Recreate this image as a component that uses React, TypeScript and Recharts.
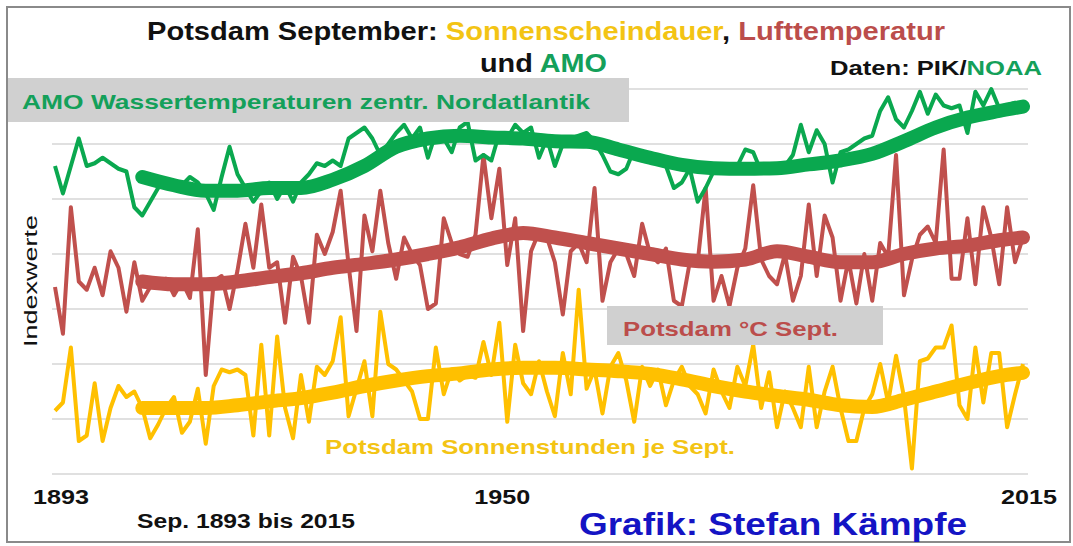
import React from 'react';
import { LineChart, Line, XAxis, YAxis, CartesianGrid } from 'recharts';

// Sep. 1893 .. 2015, index values (gridline = 1 unit)
const firstYear = 1893;
const years = Array.from({ length: 123 }, (_, i) => firstYear + i);

const amo = [
  5.6, 5.1, 5.6, 6.1, 5.6, 5.65, 5.75, 5.65, 5.55, 5.5,
  4.85, 4.7, 4.95, 5.2, 5.35, 5.3, 5.25, 5.4, 5.3, 5.1,
  4.8, 5.4, 5.95, 5.45, 5.2, 4.95, 5.15, 5.3, 5.0, 5.25,
  4.95, 5.3, 5.45, 5.65, 5.6, 5.7, 5.6, 6.1, 6.2, 6.3,
  6.1, 5.8, 6.0, 6.2, 6.35, 6.1, 6.3, 5.75, 6.2, 6.1,
  5.85, 6.3, 6.4, 5.7, 5.8, 5.7, 6.2, 6.1, 6.35, 6.2,
  6.3, 5.75, 6.1, 5.6, 6.0, 6.1, 6.15, 6.2, 6.05, 5.8,
  5.5, 5.45, 5.55, 5.9, 5.85, 5.75, 5.7, 5.6, 5.2, 5.3,
  5.55, 4.95, 5.2, 5.5, 5.55, 5.5, 5.6, 5.9, 5.85, 5.5,
  5.5, 5.55, 5.6, 5.8, 6.35, 5.85, 6.25, 6.0, 5.3, 5.85,
  5.9, 6.0, 6.1, 6.15, 6.6, 6.85, 6.45, 6.3, 6.6, 6.95,
  6.55, 6.9, 6.7, 6.65, 6.7, 6.2, 6.95, 6.7, 7.0, 6.65,
  6.7, 6.75, 6.7,
];

const temp = [
  3.4, 2.55, 4.85, 3.5, 3.35, 3.75, 3.25, 4.05, 3.75, 2.95,
  3.85, 3.15, 3.4, 3.5, 3.55, 3.25, 3.5, 3.2, 4.45, 1.8,
  3.5, 3.6, 3.0, 3.7, 4.55, 3.75, 4.9, 3.75, 3.85, 2.75,
  3.95, 3.6, 2.75, 4.35, 4.0, 4.4, 5.15, 3.8, 2.6, 4.7,
  4.05, 5.15, 4.2, 3.55, 4.3, 4.0, 3.8, 3.0, 3.1, 4.65,
  4.2, 4.0, 3.95, 4.35, 5.8, 4.65, 5.55, 3.8, 4.65, 2.6,
  4.05, 4.4, 4.3, 3.85, 2.9, 4.05, 4.2, 3.85, 5.2, 3.15,
  3.85, 4.1, 4.0, 3.6, 4.55, 4.0, 3.85, 4.1, 3.15, 3.05,
  3.85, 3.85, 5.2, 3.15, 3.6, 3.05, 3.75, 4.1, 5.25, 3.9,
  3.6, 3.45, 4.0, 3.15, 3.6, 4.9, 3.6, 4.7, 4.3, 3.15,
  3.9, 3.1, 4.0, 3.15, 4.2, 3.95, 5.8, 3.25, 3.9, 4.35,
  4.5, 4.2, 5.9, 3.55, 3.55, 4.65, 3.45, 4.85, 4.3, 3.45,
  4.85, 3.85, 4.3,
];

const sun = [
  1.15, 1.3, 2.3, 0.6, 0.7, 1.65, 0.6, 1.2, 1.6, 1.4,
  1.5, 1.2, 0.65, 0.9, 1.2, 1.4, 0.75, 0.95, 1.55, 0.55,
  1.6, 1.9, 1.85, 1.9, 1.8, 0.7, 2.35, 0.7, 2.5, 1.2,
  0.65, 1.8, 0.95, 1.95, 1.8, 2.05, 2.85, 1.05, 1.55, 2.05,
  1.05, 2.95, 2.0, 1.9, 1.7, 1.5, 1.0, 1.0, 2.3, 1.45,
  1.9, 1.7, 1.8, 1.75, 2.4, 1.8, 2.75, 0.95, 2.35, 1.65,
  1.45, 2.05, 1.5, 1.05, 2.2, 1.45, 3.35, 1.55, 1.9, 1.1,
  1.95, 2.2, 1.7, 0.95, 1.95, 1.6, 1.9, 1.25, 1.7, 1.95,
  1.6, 1.45, 1.1, 1.9, 1.5, 1.2, 1.95, 1.6, 2.35, 1.2,
  1.85, 0.85, 1.5, 1.2, 0.85, 1.95, 0.85, 1.5, 1.95, 1.2,
  0.6, 0.6, 1.2, 1.45, 2.0, 1.3, 2.15, 1.4, 0.1, 2.05,
  2.1, 2.3, 2.3, 2.7, 1.25, 1.0, 2.3, 1.3, 2.2, 2.2,
  0.85, 1.45, 2.0,
];

// thick smoothed curves, read at these years
const smoothYears = [
  1904, 1908, 1912, 1916, 1920, 1924, 1928, 1932, 1936, 1940,
  1944, 1948, 1952, 1956, 1960, 1964, 1968, 1972, 1976, 1980,
  1984, 1988, 1992, 1996, 2000, 2004, 2008, 2012, 2015,
];
const amoSmooth = [
  5.4, 5.25, 5.15, 5.15, 5.2, 5.2, 5.35, 5.6, 5.95, 6.1,
  6.15, 6.12, 6.1, 6.05, 6.04, 5.9, 5.75, 5.62, 5.56, 5.55,
  5.56, 5.63, 5.7, 5.82, 6.05, 6.3, 6.48, 6.6, 6.68,
];
const tempSmooth = [
  3.5, 3.45, 3.45, 3.5, 3.58, 3.65, 3.75, 3.82, 3.9, 4.0,
  4.12, 4.28, 4.38, 4.3, 4.2, 4.1, 4.0, 3.9, 3.86, 3.9,
  4.05, 3.95, 3.85, 3.85, 4.0, 4.1, 4.15, 4.25, 4.3,
];
const sunSmooth = [
  1.2, 1.2, 1.2, 1.25, 1.32, 1.38, 1.48, 1.6, 1.7, 1.78,
  1.83, 1.9, 1.93, 1.93, 1.9, 1.87, 1.82, 1.72, 1.6, 1.5,
  1.42, 1.35, 1.25, 1.22, 1.35, 1.5, 1.65, 1.78, 1.84,
];

const xTicks = [1893, 1950, 2015];
const tickShift = [6, -5, 6];
const yTicks = [0, 1, 2, 3, 4, 5, 6, 7];

const GREEN = '#0aa84f';
const RED = '#c0504d';
const YELLOW = '#ffc000';
const FONT = '"Liberation Sans", Arial, sans-serif';

const data = years.map((year, i) => {
  const k = smoothYears.indexOf(year);
  return {
    year,
    amo: amo[i],
    temp: temp[i],
    sun: sun[i],
    amoS: k >= 0 ? amoSmooth[k] : null,
    tempS: k >= 0 ? tempSmooth[k] : null,
    sunS: k >= 0 ? sunSmooth[k] : null,
  };
});

const YearTick = (props: any) => {
  const { x, y, payload, index } = props;
  return (
    <text
      x={x + (tickShift[index] || 0)}
      y={y + 22}
      textAnchor="middle"
      fontFamily={FONT}
      fontWeight="bold"
      fontSize={20}
      fill="#111"
      textLength={56}
      lengthAdjust="spacingAndGlyphs"
    >
      {payload.value}
    </text>
  );
};

// skip the line at the very top of the plot (value 8), the original has none there
const GridLine = (props: any) => {
  const { x1, x2, y1, y2, index } = props;
  if (y1 < 50) return <g key={`gl-${index}`} />;
  return <line key={`gl-${index}`} x1={x1 - 3} x2={x2 + 5} y1={y1} y2={y2} stroke="#d6d6d6" strokeWidth={1.5} />;
};

const App: React.FC = () => {
  return (
    <div style={{ position: 'absolute', left: 0, top: 0, width: 1073, height: 546, background: '#fff', fontFamily: FONT }}>
      <LineChart width={1073} height={546} data={data} margin={{ top: 34, right: 50, bottom: 42, left: 55 }}>
        <CartesianGrid vertical={false} horizontal={GridLine} />
        <XAxis
          dataKey="year"
          type="number"
          domain={[1893, 2015]}
          ticks={xTicks}
          axisLine={false}
          tickLine={false}
          height={30}
          tick={<YearTick />}
        />
        <YAxis hide domain={[0, 8]} ticks={yTicks} />
        <Line dataKey="sun" type="linear" stroke={YELLOW} strokeWidth={4} dot={false} strokeLinejoin="round" isAnimationActive={false} />
        <Line dataKey="sunS" type="monotone" stroke={YELLOW} strokeWidth={14} dot={false} connectNulls strokeLinecap="round" isAnimationActive={false} />
        <Line dataKey="temp" type="linear" stroke={RED} strokeWidth={4} dot={false} strokeLinejoin="round" isAnimationActive={false} />
        <Line dataKey="tempS" type="monotone" stroke={RED} strokeWidth={14} dot={false} connectNulls strokeLinecap="round" isAnimationActive={false} />
        <Line dataKey="amo" type="linear" stroke={GREEN} strokeWidth={4} dot={false} strokeLinejoin="round" isAnimationActive={false} />
        <Line dataKey="amoS" type="monotone" stroke={GREEN} strokeWidth={14} dot={false} connectNulls strokeLinecap="round" isAnimationActive={false} />
      </LineChart>

      <svg width={1073} height={546} style={{ position: 'absolute', left: 0, top: 0, pointerEvents: 'none' }} fontFamily={FONT}>
        <rect x={7} y={7} width={1063} height={535} fill="none" stroke="#8a8a8a" strokeWidth={2} />

        <text x={147} y={40} fontSize={25} fontWeight="bold" textLength={798} lengthAdjust="spacingAndGlyphs" fill="#111">
          Potsdam September: <tspan fill="#f3c414">Sonnenscheindauer</tspan>, <tspan fill="#bb4d4b">Lufttemperatur</tspan>
        </text>
        <text x={480} y={72} fontSize={25} fontWeight="bold" textLength={127} lengthAdjust="spacingAndGlyphs" fill="#111">
          und <tspan fill="#14a05a">AMO</tspan>
        </text>
        <text x={830} y={75} fontSize={21} fontWeight="bold" textLength={212} lengthAdjust="spacingAndGlyphs" fill="#111">
          Daten: PIK/<tspan fill="#14a05a">NOAA</tspan>
        </text>

        <rect x={8} y={78} width={621} height={44} fill="#d0d0d0" />
        <text x={22} y={109} fontSize={21} fontWeight="bold" textLength={568} lengthAdjust="spacingAndGlyphs" fill="#14a05a">
          AMO Wassertemperaturen  zentr. Nordatlantik
        </text>

        <rect x={607} y={306} width={276} height={39} fill="#d0d0d0" />
        <text x={623} y={336} fontSize={20} fontWeight="bold" textLength={215} lengthAdjust="spacingAndGlyphs" fill="#bb4d4b">
          Potsdam °C Sept.
        </text>

        <text x={325} y={454} fontSize={21} fontWeight="bold" textLength={410} lengthAdjust="spacingAndGlyphs" fill="#f3c414">
          Potsdam Sonnenstunden je Sept.
        </text>

        <text x={0} y={0} fontSize={19} textLength={132} lengthAdjust="spacingAndGlyphs" fill="#111" textAnchor="middle" transform="translate(37 281) rotate(-90)">
          Indexwerte
        </text>

        <text x={137} y={528} fontSize={20} fontWeight="bold" textLength={218} lengthAdjust="spacingAndGlyphs" fill="#111">
          Sep. 1893 bis 2015
        </text>
        <text x={579} y={535} fontSize={31} fontWeight="bold" textLength={388} lengthAdjust="spacingAndGlyphs" fill="#1414c4">
          Grafik: Stefan Kämpfe
        </text>
      </svg>
    </div>
  );
};

export default App;
